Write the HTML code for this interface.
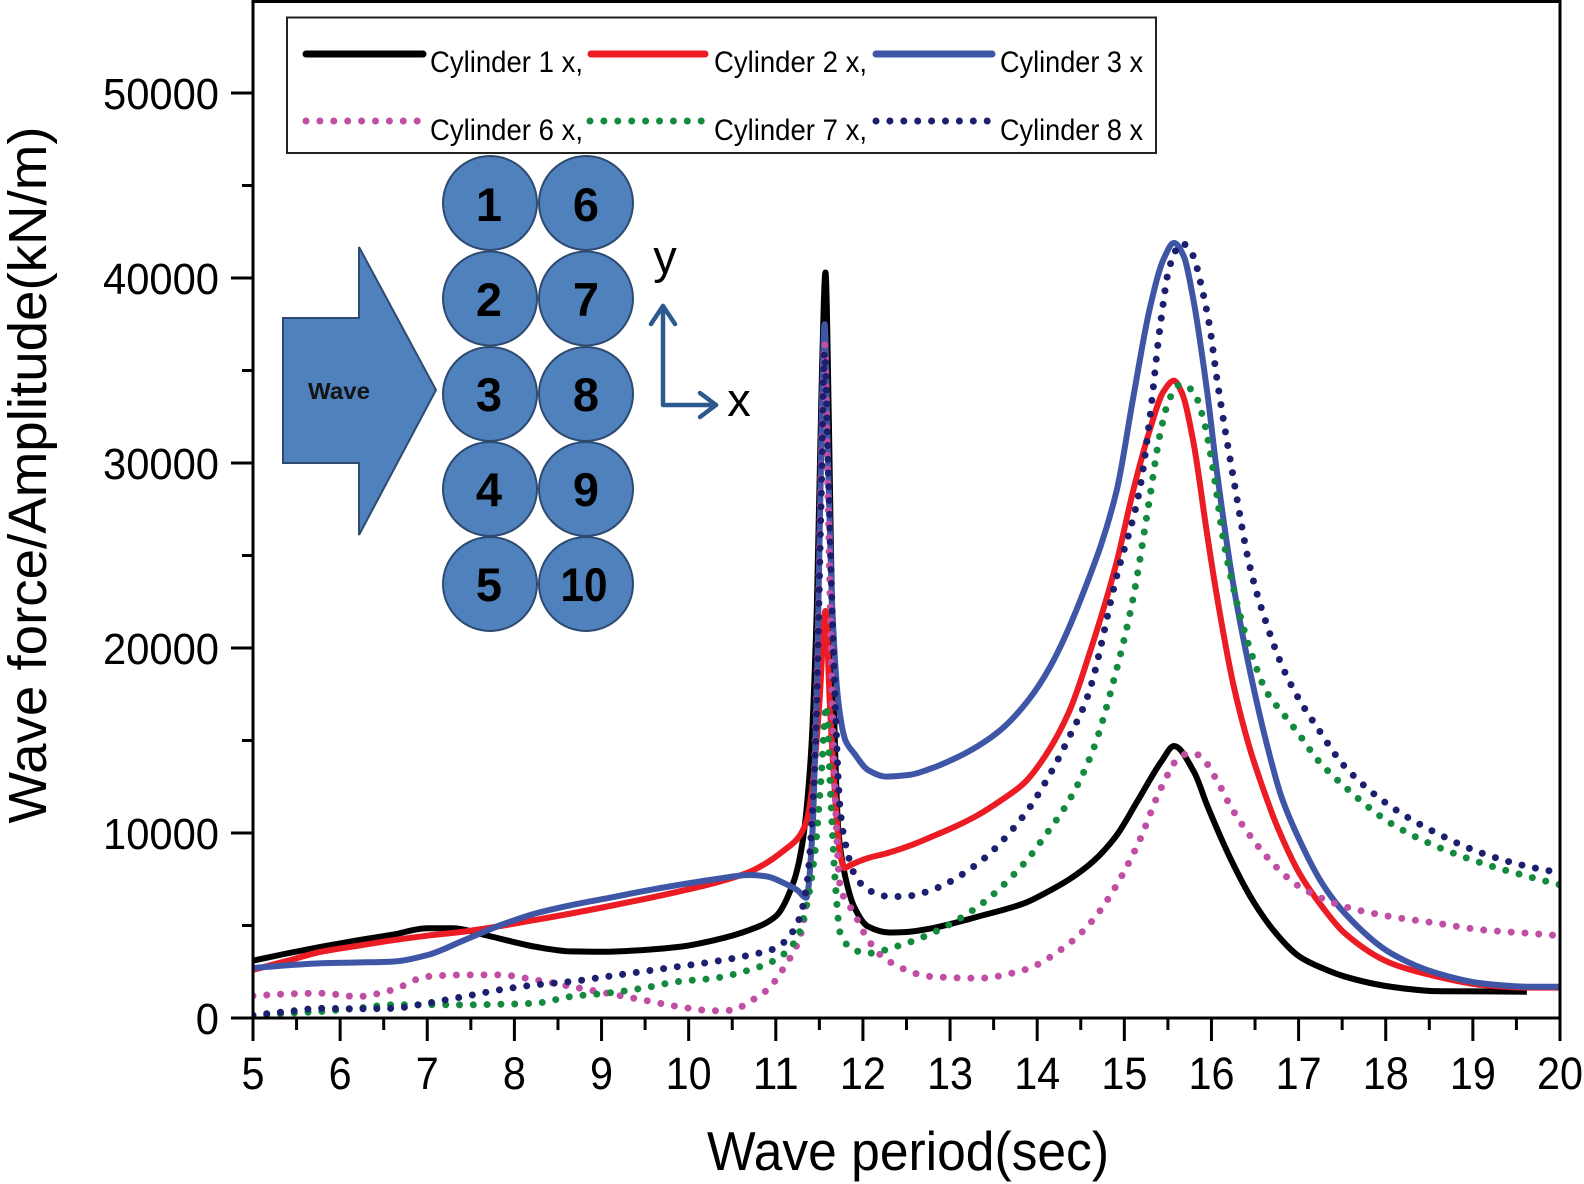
<!DOCTYPE html>
<html>
<head>
<meta charset="utf-8">
<style>
  html,body{margin:0;padding:0;background:#fff;}
  svg{display:block;}
  text{font-family:"Liberation Sans", Arial, sans-serif;}
</style>
</head>
<body>
<svg id="chart" xmlns="http://www.w3.org/2000/svg" width="1584" height="1184" viewBox="0 0 1584 1184">
  <rect x="0" y="0" width="1584" height="1184" fill="#fff"/>
  <defs>
    <clipPath id="plotclip"><rect x="253" y="0" width="1307" height="1018"/></clipPath>
  </defs>

  <!-- Inset diagram -->
  <g stroke="#2e4a70" stroke-width="2" fill="#4f81bd">
    <polygon points="283,318 359,318 359,247 436,390 359,535 359,463 283,463"/>
    <circle cx="490" cy="203" r="47"/>
    <circle cx="586" cy="203" r="47"/>
    <circle cx="490" cy="298.5" r="47"/>
    <circle cx="586" cy="298.5" r="47"/>
    <circle cx="490" cy="394" r="47"/>
    <circle cx="586" cy="394" r="47"/>
    <circle cx="490" cy="489" r="47"/>
    <circle cx="586" cy="489" r="47"/>
    <circle cx="490" cy="584" r="47"/>
    <circle cx="586" cy="584" r="47"/>
  </g>
  <text x="339" y="399" font-size="23" font-weight="bold" text-anchor="middle" fill="#141414" textLength="62" lengthAdjust="spacingAndGlyphs">Wave</text>
  <g font-size="47" font-weight="bold" fill="#000" text-anchor="middle">
    <text x="489" y="221">1</text>
    <text x="586" y="221">6</text>
    <text x="489" y="316">2</text>
    <text x="586" y="316">7</text>
    <text x="489" y="411">3</text>
    <text x="586" y="411">8</text>
    <text x="489" y="506">4</text>
    <text x="586" y="506">9</text>
    <text x="489" y="601">5</text>
    <text x="584" y="601" textLength="47" lengthAdjust="spacingAndGlyphs">10</text>
  </g>
  <!-- xy arrows -->
  <g stroke="#2c5a8f" stroke-width="4.5" fill="none" stroke-linecap="round" stroke-linejoin="round">
    <polyline points="663,306 663,405 716,405"/>
    <polyline points="651,324 663,306 675,324"/>
    <polyline points="700,393 716,405 700,417"/>
  </g>
  <text x="665" y="273" font-size="47" fill="#000" text-anchor="middle">y</text>
  <text x="739" y="416" font-size="47" fill="#000" text-anchor="middle">x</text>

  <!-- Legend -->
  <rect x="287" y="17.5" width="869" height="135.5" fill="none" stroke="#222" stroke-width="2"/>
  <g stroke-width="7" stroke-linecap="round">
    <line x1="306" y1="54" x2="423" y2="54" stroke="#000"/>
    <line x1="591" y1="54" x2="705" y2="54" stroke="#ec1c24"/>
    <line x1="876" y1="54" x2="992" y2="54" stroke="#3f56a6"/>
  </g>
  <g stroke-width="7" stroke-linecap="round" stroke-dasharray="0 13.9" fill="none">
    <line x1="306" y1="121" x2="420" y2="121" stroke="#c04fa4"/>
    <line x1="590" y1="121" x2="704" y2="121" stroke="#138a3e"/>
    <line x1="876" y1="121" x2="990" y2="121" stroke="#1c1f6e"/>
  </g>
  <g font-size="30" fill="#000">
    <text x="430" y="72" textLength="153" lengthAdjust="spacingAndGlyphs">Cylinder 1 x,</text>
    <text x="714" y="72" textLength="153" lengthAdjust="spacingAndGlyphs">Cylinder 2 x,</text>
    <text x="1000" y="72" textLength="143" lengthAdjust="spacingAndGlyphs">Cylinder 3 x</text>
    <text x="430" y="140" textLength="153" lengthAdjust="spacingAndGlyphs">Cylinder 6 x,</text>
    <text x="714" y="140" textLength="153" lengthAdjust="spacingAndGlyphs">Cylinder 7 x,</text>
    <text x="1000" y="140" textLength="143" lengthAdjust="spacingAndGlyphs">Cylinder 8 x</text>
  </g>

  <!-- Series -->
  <g clip-path="url(#plotclip)" fill="none">
    <path id="s1" stroke="#000" stroke-width="6" stroke-linejoin="round"/>
    <path id="s2" stroke="#ec1c24" stroke-width="6" stroke-linejoin="round"/>
    <path id="s3" stroke="#3f56a6" stroke-width="6" stroke-linejoin="round"/>
    <path id="s6" stroke="#c04fa4" stroke-width="7" stroke-linecap="round" stroke-dasharray="0 13.8"/>
    <path id="s7" stroke="#138a3e" stroke-width="7" stroke-linecap="round" stroke-dasharray="0 13.8"/>
    <path id="s8" stroke="#1c1f6e" stroke-width="7" stroke-linecap="round" stroke-dasharray="0 13.8"/>
  </g>

  <!-- Axes frame -->
  <g stroke="#000" stroke-width="3" fill="none">
    <line x1="253" y1="0" x2="253" y2="1019.5"/>
    <line x1="251.5" y1="1018" x2="1561.5" y2="1018"/>
    <line x1="1560" y1="0" x2="1560" y2="1019.5"/>
    <line x1="251.5" y1="1.5" x2="1561.5" y2="1.5"/>
  </g>
  <g id="ticks" stroke="#000" stroke-width="3"></g>
  <g id="ticklabels" fill="#000"></g>

  <!-- Axis titles -->
  <text x="908" y="1170" font-size="55" fill="#000" text-anchor="middle" textLength="402" lengthAdjust="spacingAndGlyphs">Wave period(sec)</text>
  <text transform="translate(46,475) rotate(-90)" x="0" y="0" font-size="54" fill="#000" text-anchor="middle" textLength="697" lengthAdjust="spacingAndGlyphs">Wave force/Amplitude(kN/m)</text>
</svg>

<script>
(function(){
  var NS="http://www.w3.org/2000/svg";
  function X(p){return 253+(p-5)*87.133;}
  function Y(v){return 1018-v*0.0185;}

  var tg=document.getElementById('ticks');
  var lg=document.getElementById('ticklabels');
  function line(x1,y1,x2,y2){var l=document.createElementNS(NS,'line');l.setAttribute('x1',x1);l.setAttribute('y1',y1);l.setAttribute('x2',x2);l.setAttribute('y2',y2);tg.appendChild(l);}
  function txt(x,y,s,size,anchor,len){var t=document.createElementNS(NS,'text');t.setAttribute('x',x);t.setAttribute('y',y);t.setAttribute('font-size',size);t.setAttribute('text-anchor',anchor);if(len){t.setAttribute('textLength',len);t.setAttribute('lengthAdjust','spacingAndGlyphs');}t.textContent=s;lg.appendChild(t);}
  for(var p=5;p<=20;p++){
    var x=X(p); line(x,1018,x,1041);
    var s=String(p); txt(x,1089,s,45,'middle',23*s.length);
    if(p<20){var xm=X(p+0.5); line(xm,1018,xm,1030);}
  }
  for(var v=0;v<=50000;v+=10000){
    var y=Y(v); line(231,y,253,y);
    var s2=String(v); txt(219,y+16,s2,44,'end',23.2*s2.length);
    if(v<50000){var ym=Y(v+5000); line(242,ym,253,ym);}
  }

  function mono(data){
    var xs=[],ys=[],n=data.length,i;
    for(i=0;i<n;i++){xs.push(X(data[i][0]));ys.push(Y(data[i][1]));}
    var d=[],h=[],m=new Array(n);
    for(i=0;i<n-1;i++){h.push(xs[i+1]-xs[i]);d.push((ys[i+1]-ys[i])/h[i]);}
    m[0]=d[0];m[n-1]=d[n-2];
    for(i=1;i<n-1;i++){
      if(d[i-1]*d[i]<=0){m[i]=0;}
      else{var h0=h[i-1],h1=h[i];m[i]=3*(h0+h1)/((2*h1+h0)/d[i-1]+(h1+2*h0)/d[i]);}
    }
    var s="M"+xs[0].toFixed(2)+","+ys[0].toFixed(2);
    for(i=0;i<n-1;i++){
      var hh=h[i]/3;
      s+=" C"+(xs[i]+hh).toFixed(2)+","+(ys[i]+m[i]*hh).toFixed(2)+" "+(xs[i+1]-hh).toFixed(2)+","+(ys[i+1]-m[i+1]*hh).toFixed(2)+" "+xs[i+1].toFixed(2)+","+ys[i+1].toFixed(2);
    }
    return s;
  }

  var C1=[[5.0,3100],[5.4,3500],[5.78,3850],[6.2,4200],[6.6,4500],[7.0,4850],[7.3,4850],[7.65,4500],[8.0,4100],[8.24,3850],[8.65,3600],[9.0,3580],[9.47,3670],[9.9,3850],[10.29,4200],[10.7,4760],[11.0,5500],[11.2,7300],[11.3,9300],[11.4,14000],[11.47,22000],[11.53,35000],[11.57,40300],[11.61,32000],[11.66,18000],[11.72,10000],[11.79,7800],[11.9,6000],[12.06,4940],[12.3,4620],[12.5,4650],[12.79,4850],[13.06,5150],[13.32,5480],[13.85,6200],[14.15,6900],[14.37,7500],[14.65,8500],[14.9,9800],[15.16,11800],[15.43,13900],[15.57,14700],[15.8,13300],[15.95,11500],[16.22,8600],[16.48,6300],[16.74,4580],[17.01,3320],[17.27,2700],[17.53,2240],[18.06,1690],[18.59,1450],[19.11,1440],[19.62,1420]];
  var C2=[[5.0,2600],[5.4,3100],[5.78,3580],[6.2,3900],[6.6,4200],[7.0,4450],[7.42,4670],[8.24,5300],[9.06,6020],[9.88,6830],[10.3,7300],[10.7,7900],[10.9,8400],[11.1,9080],[11.25,9700],[11.35,10600],[11.42,12500],[11.5,17000],[11.57,22000],[11.62,17000],[11.68,12000],[11.74,8800],[11.79,8100],[11.85,8250],[12.06,8650],[12.27,8900],[12.53,9300],[12.79,9800],[13.06,10350],[13.32,10970],[13.58,11750],[13.85,12700],[14.11,14300],[14.37,16600],[14.6,19700],[14.91,24610],[15.1,28470],[15.29,31750],[15.45,33870],[15.57,34450],[15.66,33800],[15.79,31200],[15.95,26150],[16.06,22870],[16.25,18050],[16.44,14570],[16.6,12300],[16.74,10520],[17.01,7820],[17.27,6020],[17.53,4580],[18.06,2960],[18.59,2240],[19.11,1780],[19.64,1640],[20.0,1640]];
  var C3=[[5.0,2700],[5.4,2850],[5.78,2960],[6.2,3000],[6.6,3050],[7.0,3400],[7.42,4200],[7.83,5000],[8.24,5650],[8.65,6100],[9.06,6470],[9.47,6850],[9.88,7190],[10.3,7500],[10.7,7730],[10.9,7650],[11.1,7280],[11.25,6900],[11.35,6500],[11.42,10000],[11.48,20000],[11.53,33000],[11.56,37500],[11.6,30000],[11.65,22000],[11.72,17000],[11.8,15000],[11.9,14300],[12.06,13400],[12.27,13050],[12.53,13140],[12.79,13500],[13.06,14040],[13.32,14700],[13.58,15570],[13.9,17190],[14.15,19000],[14.53,23000],[14.91,28470],[15.1,33480],[15.29,38310],[15.45,41010],[15.57,41900],[15.68,41200],[15.79,38890],[15.95,33870],[16.06,29625],[16.25,23450],[16.44,18800],[16.63,14900],[16.8,12000],[17.01,9620],[17.27,7280],[17.53,5660],[18.06,3500],[18.59,2420],[19.11,1870],[19.64,1690],[20.0,1690]];
  var C6=[[5.0,1200],[5.4,1300],[5.78,1340],[6.2,1160],[6.6,1520],[7.0,2240],[7.42,2330],[7.83,2330],[8.24,2060],[8.65,1700],[9.06,1340],[9.47,980],[9.88,620],[10.29,390],[10.5,420],[10.7,890],[10.9,1520],[11.1,2780],[11.3,4760],[11.4,9000],[11.47,18000],[11.53,32000],[11.56,36500],[11.6,28000],[11.66,15000],[11.74,7100],[11.9,5660],[12.06,4220],[12.27,3140],[12.79,2240],[13.32,2150],[13.85,2600],[14.37,4040],[14.64,5300],[14.9,7100],[15.16,9440],[15.43,12510],[15.64,14130],[15.75,14300],[15.85,14220],[16.06,12870],[16.22,11430],[16.48,9620],[16.74,8180],[17.01,7100],[17.53,6020],[18.06,5480],[18.59,5120],[19.11,4760],[19.64,4580],[20.0,4450]];
  var C7=[[5.0,100],[5.4,250],[5.78,350],[6.2,530],[6.6,710],[7.0,720],[7.42,710],[7.83,740],[8.24,800],[8.65,1160],[9.06,1340],[9.47,1610],[9.88,1970],[10.29,2150],[10.7,2600],[10.99,3130],[11.23,4200],[11.35,6000],[11.45,9000],[11.52,13000],[11.58,16900],[11.63,12000],[11.68,7500],[11.74,4580],[11.9,3680],[12.06,3500],[12.38,3860],[12.79,4580],[13.32,6020],[13.85,8360],[14.11,9980],[14.37,11790],[14.64,14480],[14.91,18820],[15.1,22670],[15.29,28080],[15.41,31560],[15.52,33480],[15.65,34260],[15.79,33870],[15.91,32330],[16.02,29625],[16.14,25765],[16.29,22480],[16.44,19970],[16.63,17660],[16.83,16400],[17.01,15300],[17.21,14000],[17.53,12500],[18.06,10520],[18.59,9260],[19.11,8360],[19.64,7640],[20.0,7200]];
  var C8=[[5.0,150],[5.4,350],[5.78,520],[6.2,500],[6.6,520],[7.0,800],[7.42,1160],[7.83,1520],[8.24,1790],[8.65,1970],[9.06,2240],[9.47,2510],[9.88,2780],[10.29,3050],[10.7,3400],[10.99,3760],[11.23,4940],[11.35,7000],[11.45,14000],[11.52,28000],[11.56,36000],[11.6,30000],[11.66,20000],[11.74,11200],[11.82,9000],[11.9,7800],[12.06,6920],[12.32,6560],[12.53,6600],[12.79,6920],[13.32,8360],[13.85,10970],[14.11,12870],[14.37,15210],[14.58,17400],[14.91,23835],[15.18,28660],[15.29,32330],[15.41,37345],[15.52,40630],[15.66,41880],[15.79,41200],[15.87,39850],[15.98,37350],[16.06,34640],[16.25,29240],[16.44,24410],[16.63,21330],[16.83,18820],[17.01,17190],[17.21,15730],[17.53,13590],[18.06,11430],[18.59,9980],[19.11,8900],[19.64,8180],[20.0,7850]];

  document.getElementById('s1').setAttribute('d',mono(C1));
  document.getElementById('s2').setAttribute('d',mono(C2));
  document.getElementById('s3').setAttribute('d',mono(C3));
  document.getElementById('s6').setAttribute('d',mono(C6));
  document.getElementById('s7').setAttribute('d',mono(C7));
  document.getElementById('s8').setAttribute('d',mono(C8));
})();
</script>
</body>
</html>
